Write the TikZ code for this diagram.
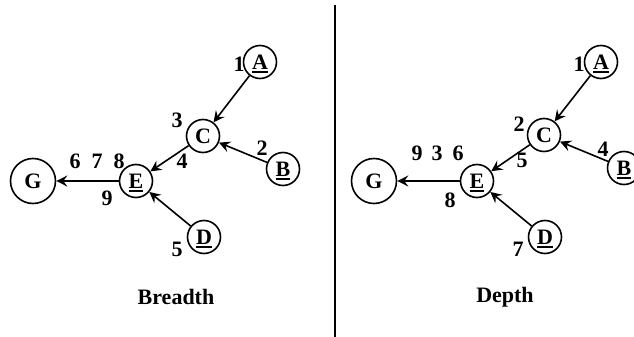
\documentclass[tikz,border=0pt]{standalone}
\usepackage{fontspec}
\setmainfont{Liberation Serif}
\usetikzlibrary{arrows.meta}
\newcommand\ulet[1]{\setbox0\hbox{#1}\rlap{\smash{\rule[-4pt]{\wd0}{2.6pt}}}#1}
\tikzset{
  vert/.style={circle,draw,line width=1.6pt,minimum size=33pt,inner sep=0pt,font=\fontsize{22}{22}\selectfont\bfseries},
  goal/.style={vert,minimum size=45pt},
  num/.style={inner sep=0pt,font=\fontsize{22}{22}\selectfont\bfseries},
  edge/.style={line width=1.6pt,-{Stealth[length=11pt,width=11pt,inset=4pt]}},
  ttl/.style={inner sep=0pt,anchor=base,font=\fontsize{22}{22}\selectfont\bfseries}
}
\begin{document}
\begin{tikzpicture}[x=1pt,y=-1pt]
\useasboundingbox (0,0) rectangle (634,337);
\clip (0,0) rectangle (634,337);
% left panel
\node[vert] (A) at (260,62) {\ulet{A}};
\node[vert] (C) at (203,136) {C};
\node[vert] (B) at (283,169) {\ulet{B}};
\node[vert] (E) at (136,181) {\ulet{E}};
\node[vert] (D) at (204,237) {\ulet{D}};
\node[goal] (G) at (33,181) {G};
\draw[edge] (A) -- (C);
\draw[edge] (B) -- (C);
\draw[edge] (C) -- (E);
\draw[edge] (D) -- (E);
\draw[edge] (E) -- (G);
\node[num] (l1) at (239,64) {1};
\node[num] (l3) at (177,120) {3};
\node[num] (l2) at (262,148) {2};
\node[num] (l4) at (182,161) {4};
\node[num] (l6) at (75,161) {6};
\node[num] (l7) at (97,161) {7};
\node[num] (l8) at (119,161) {8};
\node[num] (l9) at (107,198) {9};
\node[num] (l5) at (177,249) {5};
\node[ttl] (t1) at (176,304) {Breadth};
% divider
\coordinate (d1) at (335,5);
\coordinate (d2) at (335,337);
\draw[line width=1.8pt] (d1) -- (d2);
% right panel
\node[vert] (A2) at (601,62) {\ulet{A}};
\node[vert] (C2) at (544,135) {C};
\node[vert] (B2) at (624,168) {\ulet{B}};
\node[vert] (E2) at (477,181) {\ulet{E}};
\node[vert] (D2) at (545,237) {\ulet{D}};
\node[goal] (G2) at (374,181) {G};
\draw[edge] (A2) -- (C2);
\draw[edge] (B2) -- (C2);
\draw[edge] (C2) -- (E2);
\draw[edge] (D2) -- (E2);
\draw[edge] (E2) -- (G2);
\node[num] (r1) at (579,64) {1};
\node[num] (r2) at (519,124) {2};
\node[num] (r4) at (603,149) {4};
\node[num] (r5) at (522,160) {5};
\node[num] (r9) at (417,153) {9};
\node[num] (r3) at (437,153) {3};
\node[num] (r6) at (458,153) {6};
\node[num] (r8) at (450,200) {8};
\node[num] (r7) at (518,249) {7};
\node[ttl] (t2) at (505,302) {Depth};
\end{tikzpicture}
\end{document}
